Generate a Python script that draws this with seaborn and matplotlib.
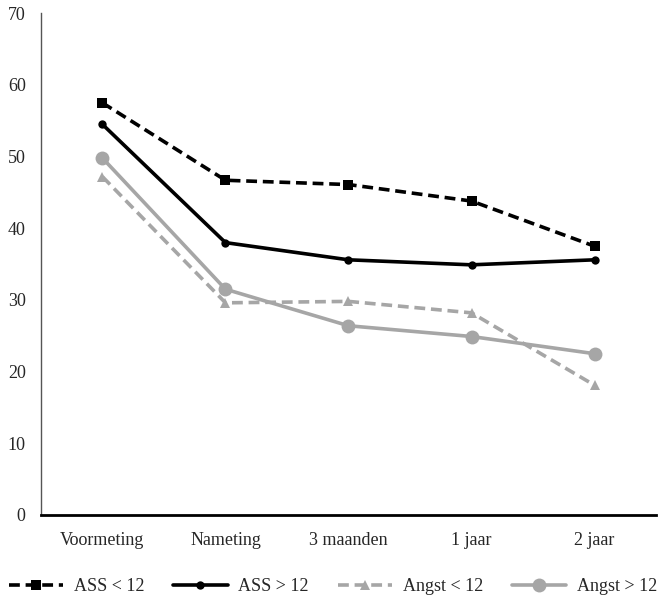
import seaborn as sns
import matplotlib.pyplot as plt
import pandas as pd

momenten = ["Voormeting", "Nameting", "3 maanden", "1 jaar", "2 jaar"]
ass_onder = [57.5, 46.7, 46.1, 43.8, 37.5]
ass_boven = [54.5, 38.0, 35.6, 34.9, 35.6]
angst_onder = [47.2, 29.6, 29.8, 28.2, 18.1]
angst_boven = [49.8, 31.5, 26.4, 24.9, 22.5]
reeksen = ["ASS < 12", "ASS > 12", "Angst < 12", "Angst > 12"]

sns.set_style("white")
plt.rcParams["font.family"] = ["Liberation Serif", "DejaVu Serif"]

grijs = "#a6a6a6"
stijlen = {
    "ASS < 12": dict(color="black", ls=(0, (3, 1.6)), marker="s", ms=7),
    "ASS > 12": dict(color="black", ls="-", marker="o", ms=6),
    "Angst < 12": dict(color=grijs, ls=(0, (3, 1.6)), marker="^", ms=7),
    "Angst > 12": dict(color=grijs, ls="-", marker="o", ms=10),
}

df = pd.DataFrame({"moment": momenten * 4,
                   "score": ass_onder + ass_boven + angst_onder + angst_boven,
                   "groep": [r for r in reeksen for _ in momenten]})

fig, ax = plt.subplots(figsize=(6.6, 6.03), dpi=100)
fig.subplots_adjust(left=0.062, right=0.994, top=0.978, bottom=0.146)

for naam in reeksen:
    s = stijlen[naam]
    sub = df[df["groep"] == naam]
    sns.lineplot(data=sub, x="moment", y="score", ax=ax, color=s["color"],
                 linestyle=s["ls"], marker=s["marker"], markersize=s["ms"],
                 markeredgewidth=0, linewidth=2.6, label=naam, sort=False)

ax.set_xlim(-0.5, 4.5)
ax.set_ylim(0, 70)
ax.set_yticks(range(0, 71, 10))
ax.set_xticks([i - 0.5 for i in range(6)])
ax.set_xticklabels([])
ax.set_xticks(range(5), minor=True)
ax.set_xticklabels(momenten, minor=True, fontsize=13)
ax.tick_params(axis="x", which="major", length=6, width=1, color="#555555", direction="out")
ax.tick_params(axis="x", which="minor", length=0, pad=12)
ax.tick_params(axis="y", length=6, width=1, color="#555555", direction="out", labelsize=13, pad=5)
ax.set_xlabel("")
ax.set_ylabel("")
for kant in ["top", "right"]:
    ax.spines[kant].set_visible(False)
ax.spines["left"].set_color("#555555")
ax.spines["left"].set_linewidth(1)
ax.spines["bottom"].set_color("black")
ax.spines["bottom"].set_linewidth(2)

ax.legend(loc="center", bbox_to_anchor=(0.475, -0.143), ncol=4, frameon=False,
          fontsize=13, handlelength=3, columnspacing=1.6, handletextpad=0.6)

fig.savefig("out.png", dpi=100)
